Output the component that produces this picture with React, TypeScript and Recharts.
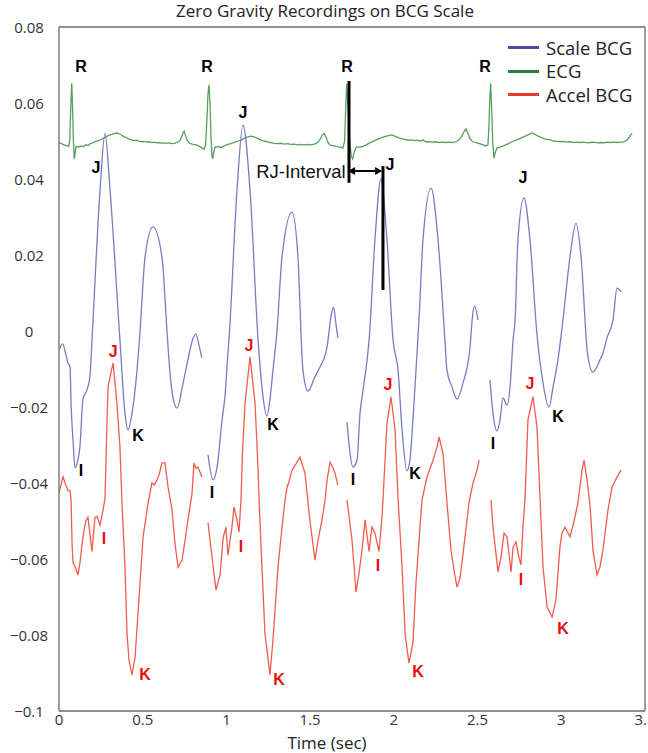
import React from 'react';
import { ComposedChart, Line, XAxis, YAxis, Scatter, ReferenceLine } from 'recharts';

const xTicks = [0, 0.5, 1, 1.5, 2, 2.5, 3, 3.5];
const yTicks = [0.08, 0.06, 0.04, 0.02, 0, -0.02, -0.04, -0.06, -0.08, -0.1];

// ECG trace [time, value]
const ecgTrace: [number, number][] = [
  [0.000, 0.0495], [0.015, 0.0493], [0.030, 0.0490], [0.045, 0.0488], [0.058, 0.0486], [0.064, 0.0500],
  [0.070, 0.0585], [0.076, 0.0652], [0.081, 0.0590], [0.086, 0.0500], [0.091, 0.0452], [0.096, 0.0468],
  [0.102, 0.0486], [0.115, 0.0484], [0.130, 0.0487], [0.145, 0.0485], [0.160, 0.0490], [0.175, 0.0488],
  [0.190, 0.0494], [0.205, 0.0496], [0.220, 0.0499], [0.235, 0.0501], [0.250, 0.0504], [0.265, 0.0507],
  [0.280, 0.0511], [0.295, 0.0514], [0.310, 0.0517], [0.325, 0.0519], [0.346, 0.0521], [0.360, 0.0519],
  [0.375, 0.0515], [0.390, 0.0511], [0.405, 0.0508], [0.420, 0.0505], [0.435, 0.0503], [0.450, 0.0501],
  [0.465, 0.0502], [0.480, 0.0499], [0.495, 0.0498], [0.510, 0.0499], [0.525, 0.0497], [0.540, 0.0498],
  [0.555, 0.0496], [0.570, 0.0497], [0.585, 0.0495], [0.600, 0.0496], [0.615, 0.0494], [0.630, 0.0495],
  [0.645, 0.0494], [0.660, 0.0495], [0.675, 0.0493], [0.690, 0.0494], [0.705, 0.0496], [0.720, 0.0500],
  [0.732, 0.0510], [0.740, 0.0520], [0.747, 0.0526], [0.755, 0.0516], [0.765, 0.0502], [0.780, 0.0494],
  [0.800, 0.0491], [0.820, 0.0490], [0.840, 0.0486], [0.855, 0.0482], [0.866, 0.0478], [0.876, 0.0490],
  [0.884, 0.0560], [0.890, 0.0625], [0.896, 0.0648], [0.902, 0.0600], [0.908, 0.0510], [0.914, 0.0460],
  [0.918, 0.0453], [0.924, 0.0470], [0.932, 0.0484], [0.950, 0.0485], [0.970, 0.0483], [0.990, 0.0488],
  [1.010, 0.0491], [1.030, 0.0494], [1.050, 0.0497], [1.070, 0.0500], [1.090, 0.0503], [1.110, 0.0508],
  [1.130, 0.0511], [1.147, 0.0513], [1.165, 0.0511], [1.185, 0.0507], [1.205, 0.0503], [1.225, 0.0500],
  [1.245, 0.0498], [1.265, 0.0496], [1.285, 0.0494], [1.305, 0.0493], [1.325, 0.0494], [1.345, 0.0492],
  [1.365, 0.0493], [1.385, 0.0491], [1.405, 0.0492], [1.425, 0.0490], [1.445, 0.0491], [1.465, 0.0490],
  [1.485, 0.0491], [1.505, 0.0490], [1.525, 0.0492], [1.545, 0.0496], [1.560, 0.0505], [1.572, 0.0515],
  [1.583, 0.0520], [1.595, 0.0510], [1.607, 0.0496], [1.620, 0.0489], [1.640, 0.0487], [1.660, 0.0485],
  [1.680, 0.0484], [1.696, 0.0481], [1.706, 0.0500], [1.712, 0.0580], [1.718, 0.0650], [1.726, 0.0590],
  [1.736, 0.0500], [1.746, 0.0460], [1.754, 0.0453], [1.762, 0.0470], [1.775, 0.0484], [1.795, 0.0484],
  [1.815, 0.0486], [1.835, 0.0490], [1.855, 0.0495], [1.875, 0.0499], [1.895, 0.0503], [1.915, 0.0507],
  [1.935, 0.0510], [1.955, 0.0513], [1.975, 0.0515], [1.989, 0.0516], [2.005, 0.0513], [2.025, 0.0509],
  [2.045, 0.0506], [2.065, 0.0504], [2.085, 0.0502], [2.105, 0.0503], [2.125, 0.0501], [2.145, 0.0502],
  [2.160, 0.0499], [2.175, 0.0503], [2.190, 0.0498], [2.210, 0.0498], [2.230, 0.0497], [2.250, 0.0498],
  [2.270, 0.0496], [2.290, 0.0497], [2.310, 0.0496], [2.330, 0.0497], [2.350, 0.0496], [2.370, 0.0498],
  [2.390, 0.0503], [2.405, 0.0512], [2.418, 0.0524], [2.431, 0.0532], [2.443, 0.0520], [2.455, 0.0506],
  [2.470, 0.0498], [2.497, 0.0495], [2.520, 0.0492], [2.550, 0.0487], [2.562, 0.0490], [2.568, 0.0540],
  [2.573, 0.0610], [2.578, 0.0652], [2.584, 0.0590], [2.590, 0.0500], [2.598, 0.0455], [2.606, 0.0470],
  [2.616, 0.0482], [2.634, 0.0484], [2.655, 0.0487], [2.675, 0.0491], [2.695, 0.0496], [2.715, 0.0500],
  [2.735, 0.0503], [2.755, 0.0507], [2.775, 0.0511], [2.795, 0.0515], [2.810, 0.0518], [2.825, 0.0521],
  [2.845, 0.0517], [2.865, 0.0512], [2.885, 0.0508], [2.905, 0.0505], [2.933, 0.0503], [2.955, 0.0500],
  [2.975, 0.0499], [2.995, 0.0498], [3.015, 0.0499], [3.035, 0.0497], [3.055, 0.0498], [3.075, 0.0496],
  [3.095, 0.0497], [3.115, 0.0496], [3.135, 0.0497], [3.155, 0.0495], [3.175, 0.0496], [3.195, 0.0497],
  [3.215, 0.0495], [3.235, 0.0496], [3.255, 0.0495], [3.275, 0.0497], [3.295, 0.0496], [3.315, 0.0497],
  [3.335, 0.0496], [3.355, 0.0497], [3.369, 0.0497], [3.385, 0.0500], [3.400, 0.0506], [3.412, 0.0514],
  [3.423, 0.0520],
];

// Scale BCG, one segment per heartbeat
const scaleBeat1: [number, number][] = [
  [0.000, -0.0050], [0.022, -0.0034], [0.040, -0.0060], [0.054, -0.0084], [0.066, -0.0095],
  [0.072, -0.0190], [0.084, -0.0290], [0.096, -0.0360], [0.110, -0.0345], [0.125, -0.0305],
  [0.143, -0.0180], [0.167, -0.0155], [0.185, -0.0120], [0.197, -0.0024], [0.245, 0.0370],
  [0.275, 0.0520], [0.305, 0.0370], [0.364, -0.0024], [0.394, -0.0216], [0.412, -0.0260],
  [0.436, -0.0216], [0.466, -0.0103], [0.484, 0.0000], [0.514, 0.0195], [0.561, 0.0274],
  [0.615, 0.0195], [0.645, 0.0000], [0.663, -0.0110], [0.681, -0.0176], [0.705, -0.0203],
  [0.741, -0.0137], [0.770, -0.0076], [0.800, -0.0020], [0.818, -0.0008], [0.835, -0.0035],
  [0.854, -0.0071],
];
const scaleBeat2: [number, number][] = [
  [0.890, -0.0326], [0.920, -0.0392], [0.944, -0.0358], [0.974, -0.0234], [0.991, -0.0173],
  [1.009, -0.0058], [1.015, -0.0024], [1.063, 0.0370], [1.099, 0.0542], [1.141, 0.0370],
  [1.189, -0.0024], [1.212, -0.0147], [1.242, -0.0224], [1.260, -0.0180], [1.278, -0.0103],
  [1.302, 0.0000], [1.332, 0.0195], [1.392, 0.0313], [1.427, 0.0195], [1.457, -0.0103],
  [1.487, -0.0158], [1.529, -0.0120], [1.559, -0.0095], [1.601, -0.0042], [1.625, 0.0040],
  [1.640, 0.0063], [1.655, 0.0015], [1.666, -0.0018],
];
const scaleBeat3: [number, number][] = [
  [1.720, -0.0240], [1.756, -0.0358], [1.780, -0.0340], [1.798, -0.0216], [1.816, -0.0155],
  [1.840, -0.0076], [1.852, -0.0024], [1.887, 0.0240], [1.923, 0.0400], [1.959, 0.0240],
  [1.995, -0.0024], [2.025, -0.0103], [2.049, -0.0260], [2.078, -0.0368], [2.096, -0.0340],
  [2.114, -0.0234], [2.138, -0.0060], [2.150, 0.0029], [2.174, 0.0240], [2.222, 0.0376],
  [2.264, 0.0240], [2.305, -0.0024], [2.317, -0.0103], [2.347, -0.0147], [2.377, -0.0179],
  [2.413, -0.0137], [2.455, -0.0042], [2.470, 0.0040], [2.482, 0.0066], [2.503, 0.0029],
];
const scaleBeat4: [number, number][] = [
  [2.574, -0.0129], [2.592, -0.0216], [2.616, -0.0263], [2.634, -0.0234], [2.652, -0.0176],
  [2.676, -0.0195], [2.694, -0.0147], [2.712, -0.0024], [2.724, 0.0029], [2.741, 0.0240],
  [2.777, 0.0350], [2.813, 0.0240], [2.855, -0.0010], [2.885, -0.0120], [2.927, -0.0200],
  [2.951, -0.0147], [2.980, -0.0076], [3.010, 0.0029], [3.052, 0.0195], [3.088, 0.0284],
  [3.118, 0.0195], [3.157, -0.0060], [3.189, -0.0108], [3.231, -0.0076], [3.249, -0.0058],
  [3.273, -0.0018], [3.309, 0.0029], [3.333, 0.0113], [3.357, 0.0103],
];

// Accel BCG, one segment per heartbeat
const accelBeat1: [number, number][] = [
  [0.000, -0.0425], [0.024, -0.0384], [0.036, -0.0400], [0.054, -0.0420], [0.066, -0.0420],
  [0.072, -0.0445], [0.078, -0.0560], [0.084, -0.0610], [0.100, -0.0625], [0.113, -0.0642],
  [0.125, -0.0610], [0.143, -0.0542], [0.160, -0.0500], [0.173, -0.0490], [0.197, -0.0580],
  [0.215, -0.0490], [0.227, -0.0488], [0.245, -0.0511], [0.263, -0.0471], [0.275, -0.0440],
  [0.287, -0.0234], [0.293, -0.0147], [0.323, -0.0084], [0.346, -0.0190], [0.364, -0.0305],
  [0.376, -0.0450], [0.394, -0.0620], [0.406, -0.0795], [0.418, -0.0866], [0.436, -0.0905],
  [0.454, -0.0861], [0.484, -0.0663], [0.502, -0.0542], [0.526, -0.0471], [0.532, -0.0453],
  [0.555, -0.0400], [0.570, -0.0405], [0.585, -0.0392], [0.600, -0.0375], [0.615, -0.0347],
  [0.633, -0.0347], [0.651, -0.0410], [0.675, -0.0471], [0.693, -0.0560], [0.711, -0.0621],
  [0.735, -0.0603], [0.753, -0.0550], [0.770, -0.0497], [0.794, -0.0430], [0.806, -0.0347],
  [0.818, -0.0362], [0.830, -0.0358], [0.854, -0.0384],
];
const accelBeat2: [number, number][] = [
  [0.890, -0.0505], [0.914, -0.0595], [0.938, -0.0682], [0.962, -0.0642], [0.980, -0.0545],
  [0.997, -0.0516], [1.009, -0.0590], [1.033, -0.0516], [1.045, -0.0463], [1.063, -0.0497],
  [1.075, -0.0529], [1.087, -0.0445], [1.096, -0.0320], [1.111, -0.0190], [1.141, -0.0068],
  [1.171, -0.0190], [1.189, -0.0366], [1.195, -0.0445], [1.212, -0.0620], [1.230, -0.0795],
  [1.260, -0.0905], [1.278, -0.0813], [1.308, -0.0621], [1.332, -0.0516], [1.350, -0.0445],
  [1.362, -0.0411], [1.375, -0.0395], [1.392, -0.0366], [1.415, -0.0350], [1.439, -0.0332],
  [1.469, -0.0374], [1.499, -0.0500], [1.529, -0.0603], [1.547, -0.0550], [1.571, -0.0497],
  [1.589, -0.0445], [1.601, -0.0392], [1.619, -0.0345], [1.637, -0.0360], [1.648, -0.0374],
  [1.666, -0.0405],
];
const accelBeat3: [number, number][] = [
  [1.720, -0.0445], [1.750, -0.0550], [1.774, -0.0687], [1.792, -0.0637], [1.810, -0.0576],
  [1.828, -0.0497], [1.852, -0.0580], [1.869, -0.0516], [1.887, -0.0532], [1.911, -0.0580],
  [1.929, -0.0490], [1.935, -0.0445], [1.959, -0.0242], [1.983, -0.0173], [2.007, -0.0260],
  [2.025, -0.0440], [2.049, -0.0621], [2.067, -0.0795], [2.090, -0.0874], [2.114, -0.0821],
  [2.132, -0.0663], [2.156, -0.0516], [2.168, -0.0445], [2.198, -0.0384], [2.234, -0.0340],
  [2.258, -0.0305], [2.270, -0.0279], [2.293, -0.0321], [2.317, -0.0450], [2.341, -0.0576],
  [2.359, -0.0629], [2.377, -0.0674], [2.395, -0.0650], [2.413, -0.0587], [2.437, -0.0497],
  [2.449, -0.0450], [2.473, -0.0400], [2.497, -0.0366], [2.509, -0.0340],
];
const accelBeat4: [number, number][] = [
  [2.580, -0.0445], [2.592, -0.0516], [2.622, -0.0634], [2.640, -0.0595], [2.658, -0.0532],
  [2.676, -0.0542], [2.700, -0.0634], [2.712, -0.0568], [2.730, -0.0555], [2.741, -0.0584],
  [2.759, -0.0616], [2.771, -0.0516], [2.783, -0.0445], [2.801, -0.0234], [2.831, -0.0173],
  [2.855, -0.0253], [2.873, -0.0440], [2.891, -0.0621], [2.915, -0.0726], [2.945, -0.0753],
  [2.968, -0.0708], [2.992, -0.0568], [3.004, -0.0532], [3.022, -0.0516], [3.052, -0.0542],
  [3.082, -0.0490], [3.100, -0.0450], [3.124, -0.0366], [3.136, -0.0340], [3.154, -0.0392],
  [3.172, -0.0460], [3.189, -0.0576], [3.213, -0.0642], [3.231, -0.0621], [3.249, -0.0576],
  [3.279, -0.0471], [3.303, -0.0411], [3.333, -0.0384], [3.357, -0.0366],
];

// Annotation labels [time, value]
const rLabels: [number, number][] = [[0.131, 0.0695], [0.884, 0.0695], [1.720, 0.0697], [2.544, 0.0697]];
const scaleJLabels: [number, number][] = [[0.221, 0.0429], [1.099, 0.0574], [1.977, 0.0437], [2.771, 0.0403]];
const scaleILabels: [number, number][] = [[0.131, -0.0366], [0.914, -0.0426], [1.756, -0.0392], [2.592, -0.0295]];
const scaleKLabels: [number, number][] = [[0.472, -0.0274], [1.278, -0.0247], [2.126, -0.0374], [2.980, -0.0226]];
const accelJLabels: [number, number][] = [[0.323, -0.0055], [1.135, -0.0039], [1.965, -0.0142], [2.813, -0.0137]];
const accelILabels: [number, number][] = [[0.269, -0.0545], [1.087, -0.0568], [1.905, -0.0616], [2.759, -0.0655]];
const accelKLabels: [number, number][] = [[0.514, -0.0903], [1.314, -0.0916], [2.144, -0.0897], [3.010, -0.0782]];
const rjText: [number, number] = [1.712, 0.0421];
const rjLineR: [number, number, number] = [1.732, 0.0658, 0.0390];
const rjLineJ: [number, number, number] = [1.935, 0.0434, 0.0108];
const rjArrow: [number, number, number] = [1.727, 1.930, 0.0421];

const seriesNames = ['Scale BCG', 'ECG', 'Accel BCG'];
const lineColors = ['#7a7ac4', '#55a05e', '#f25c4c'];
const legendColors = ['#4c4ca0', '#2c7c3c', '#ea3a2c'];

type P = { t: number; v: number | null };
const joinSegments = (segs: [number, number][][]): P[] => {
  const out: P[] = [];
  segs.forEach((seg, i) => {
    seg.forEach(([t, v]) => out.push({ t, v }));
    if (i < segs.length - 1) {
      out.push({ t: (seg[seg.length - 1][0] + segs[i + 1][0][0]) / 2, v: null });
    }
  });
  return out;
};

const ecgData = joinSegments([ecgTrace]);
const scaleData = joinSegments([scaleBeat1, scaleBeat2, scaleBeat3, scaleBeat4]);
const accelData = joinSegments([accelBeat1, accelBeat2, accelBeat3, accelBeat4]);

type A = { t: number; v: number; text: string; color: string; bold: boolean; anchor: string; size: number };
const mk = (pts: [number, number][], text: string, color: string): A[] =>
  pts.map(([t, v]) => ({ t, v, text, color, bold: true, anchor: 'middle', size: 16 }));
const annotations: A[] = [
  ...mk(rLabels, 'R', '#000'),
  ...mk(scaleJLabels, 'J', '#000'),
  ...mk(scaleILabels, 'I', '#000'),
  ...mk(scaleKLabels, 'K', '#000'),
  ...mk(accelJLabels, 'J', '#e8100a'),
  ...mk(accelILabels, 'I', '#e8100a'),
  ...mk(accelKLabels, 'K', '#e8100a'),
  { t: rjText[0], v: rjText[1], text: 'RJ-Interval', color: '#111', bold: false, anchor: 'end', size: 18.5 },
];

const fmtY = (v: number) => (v === 0 ? '0' : (v < 0 ? '\u2212' : '') + String(Math.abs(Number(v.toFixed(2)))));

const AnnoShape = (p: any) => {
  const d = p.payload || p;
  return (
    <text
      x={p.cx}
      y={p.cy}
      textAnchor={d.anchor}
      dominantBaseline="central"
      fill={d.color}
      fontWeight={d.bold ? 700 : 400}
      fontSize={d.size}
      fontFamily="'Liberation Sans', Arial, sans-serif"
    >
      {d.text}
    </text>
  );
};

const ArrowShape = (p: any) => {
  const { x1, y1, x2, y2 } = p;
  const h = 7;
  const w = 4;
  return (
    <g>
      <line x1={x1 + h} y1={y1} x2={x2 - h} y2={y2} stroke="#000" strokeWidth={2} />
      <polygon points={`${x1},${y1} ${x1 + h},${y1 - w} ${x1 + h},${y1 + w}`} fill="#000" />
      <polygon points={`${x2},${y2} ${x2 - h},${y2 - w} ${x2 - h},${y2 + w}`} fill="#000" />
    </g>
  );
};

const axisColor = '#6a6a6a';
const font = "'Open Sans', sans-serif";
const tickFont = { fontSize: 15, fill: '#333', fontFamily: font };

const YTick = (p: any) => (
  <text
    x={p.x}
    y={p.y}
    textAnchor="middle"
    dominantBaseline="central"
    fontSize={15}
    fill="#333"
    fontFamily={font}
  >
    {fmtY(p.payload.value)}
  </text>
);

export default function App() {
  return (
    <div style={{ position: 'absolute', left: 0, top: 0, width: 648, height: 753, background: '#fff' }}>
      <ComposedChart width={648} height={753} margin={{ top: 27, right: 3, bottom: 0, left: 0 }}>
        <XAxis
          xAxisId="main"
          dataKey="t"
          type="number"
          domain={[0, 3.5]}
          ticks={xTicks}
          allowDataOverflow
          height={42}
          tickLine={false}
          tickSize={0}
          tickMargin={3}
          axisLine={{ stroke: axisColor, strokeWidth: 1.3 }}
          tick={tickFont}
          interval={0}
        />
        <XAxis
          xAxisId="bottomTicks"
          dataKey="t"
          type="number"
          domain={[0, 3.5]}
          ticks={xTicks}
          allowDataOverflow
          mirror
          tick={false}
          tickSize={5}
          tickLine={{ stroke: axisColor, strokeWidth: 1.3 }}
          axisLine={false}
          interval={0}
        />
        <XAxis
          xAxisId="top"
          orientation="top"
          dataKey="t"
          type="number"
          domain={[0, 3.5]}
          ticks={xTicks}
          allowDataOverflow
          mirror
          tick={false}
          tickSize={5}
          tickLine={{ stroke: axisColor, strokeWidth: 1.3 }}
          axisLine={{ stroke: axisColor, strokeWidth: 1.3 }}
          interval={0}
        />
        <YAxis
          yAxisId="main"
          type="number"
          domain={[-0.1, 0.08]}
          ticks={yTicks}
          allowDataOverflow
          width={59}
          tickLine={false}
          tickSize={0}
          tickMargin={30}
          axisLine={{ stroke: axisColor, strokeWidth: 1.3 }}
          tick={YTick}
          interval={0}
        />
        <YAxis
          yAxisId="leftTicks"
          type="number"
          domain={[-0.1, 0.08]}
          ticks={yTicks}
          allowDataOverflow
          mirror
          tick={false}
          tickSize={5}
          tickLine={{ stroke: axisColor, strokeWidth: 1.3 }}
          axisLine={false}
          interval={0}
        />
        <YAxis
          yAxisId="right"
          orientation="right"
          type="number"
          domain={[-0.1, 0.08]}
          ticks={yTicks}
          allowDataOverflow
          mirror
          tick={false}
          tickSize={5}
          tickLine={{ stroke: axisColor, strokeWidth: 1.3 }}
          axisLine={{ stroke: axisColor, strokeWidth: 1.3 }}
          interval={0}
        />
        <Line
          xAxisId="main"
          yAxisId="main"
          data={ecgData}
          dataKey="v"
          type="linear"
          stroke={lineColors[1]}
          strokeWidth={1.3}
          dot={false}
          isAnimationActive={false}
          connectNulls={false}
        />
        <Line
          xAxisId="main"
          yAxisId="main"
          data={scaleData}
          dataKey="v"
          type="monotone"
          stroke={lineColors[0]}
          strokeWidth={1.3}
          dot={false}
          isAnimationActive={false}
          connectNulls={false}
        />
        <Line
          xAxisId="main"
          yAxisId="main"
          data={accelData}
          dataKey="v"
          type="linear"
          stroke={lineColors[2]}
          strokeWidth={1.3}
          dot={false}
          isAnimationActive={false}
          connectNulls={false}
        />
        <ReferenceLine
          xAxisId="main"
          yAxisId="main"
          segment={[{ x: rjLineR[0], y: rjLineR[1] }, { x: rjLineR[0], y: rjLineR[2] }]}
          stroke="#000"
          strokeWidth={3}
        />
        <ReferenceLine
          xAxisId="main"
          yAxisId="main"
          segment={[{ x: rjLineJ[0], y: rjLineJ[1] }, { x: rjLineJ[0], y: rjLineJ[2] }]}
          stroke="#000"
          strokeWidth={3}
        />
        <ReferenceLine
          xAxisId="main"
          yAxisId="main"
          segment={[{ x: rjArrow[0], y: rjArrow[2] }, { x: rjArrow[1], y: rjArrow[2] }]}
          shape={ArrowShape}
        />
        <Scatter
          xAxisId="main"
          yAxisId="main"
          data={annotations}
          dataKey="v"
          shape={AnnoShape}
          isAnimationActive={false}
        />
      </ComposedChart>
      <div
        style={{
          position: 'absolute', left: 0, width: 650, top: 1, textAlign: 'center',
          fontFamily: font, fontSize: 17, color: '#222', lineHeight: '20px',
        }}
      >
        Zero Gravity Recordings on BCG Scale
      </div>
      <div
        style={{
          position: 'absolute', left: 0, width: 654, top: 733, textAlign: 'center',
          fontFamily: font, fontSize: 17, color: '#222', lineHeight: '20px',
        }}
      >
        Time (sec)
      </div>
      <div style={{ position: 'absolute', left: 505, top: 34, background: '#fff', padding: '2px 4px 2px 3px' }}>
        {seriesNames.map((n, i) => (
          <div key={n} style={{ display: 'flex', alignItems: 'center', height: 23.5 }}>
            <div style={{ width: 31, height: 3, background: legendColors[i], marginRight: 7 }} />
            <span style={{ fontFamily: font, fontSize: 18.5, color: '#222', lineHeight: '20px' }}>{n}</span>
          </div>
        ))}
      </div>
    </div>
  );
}
